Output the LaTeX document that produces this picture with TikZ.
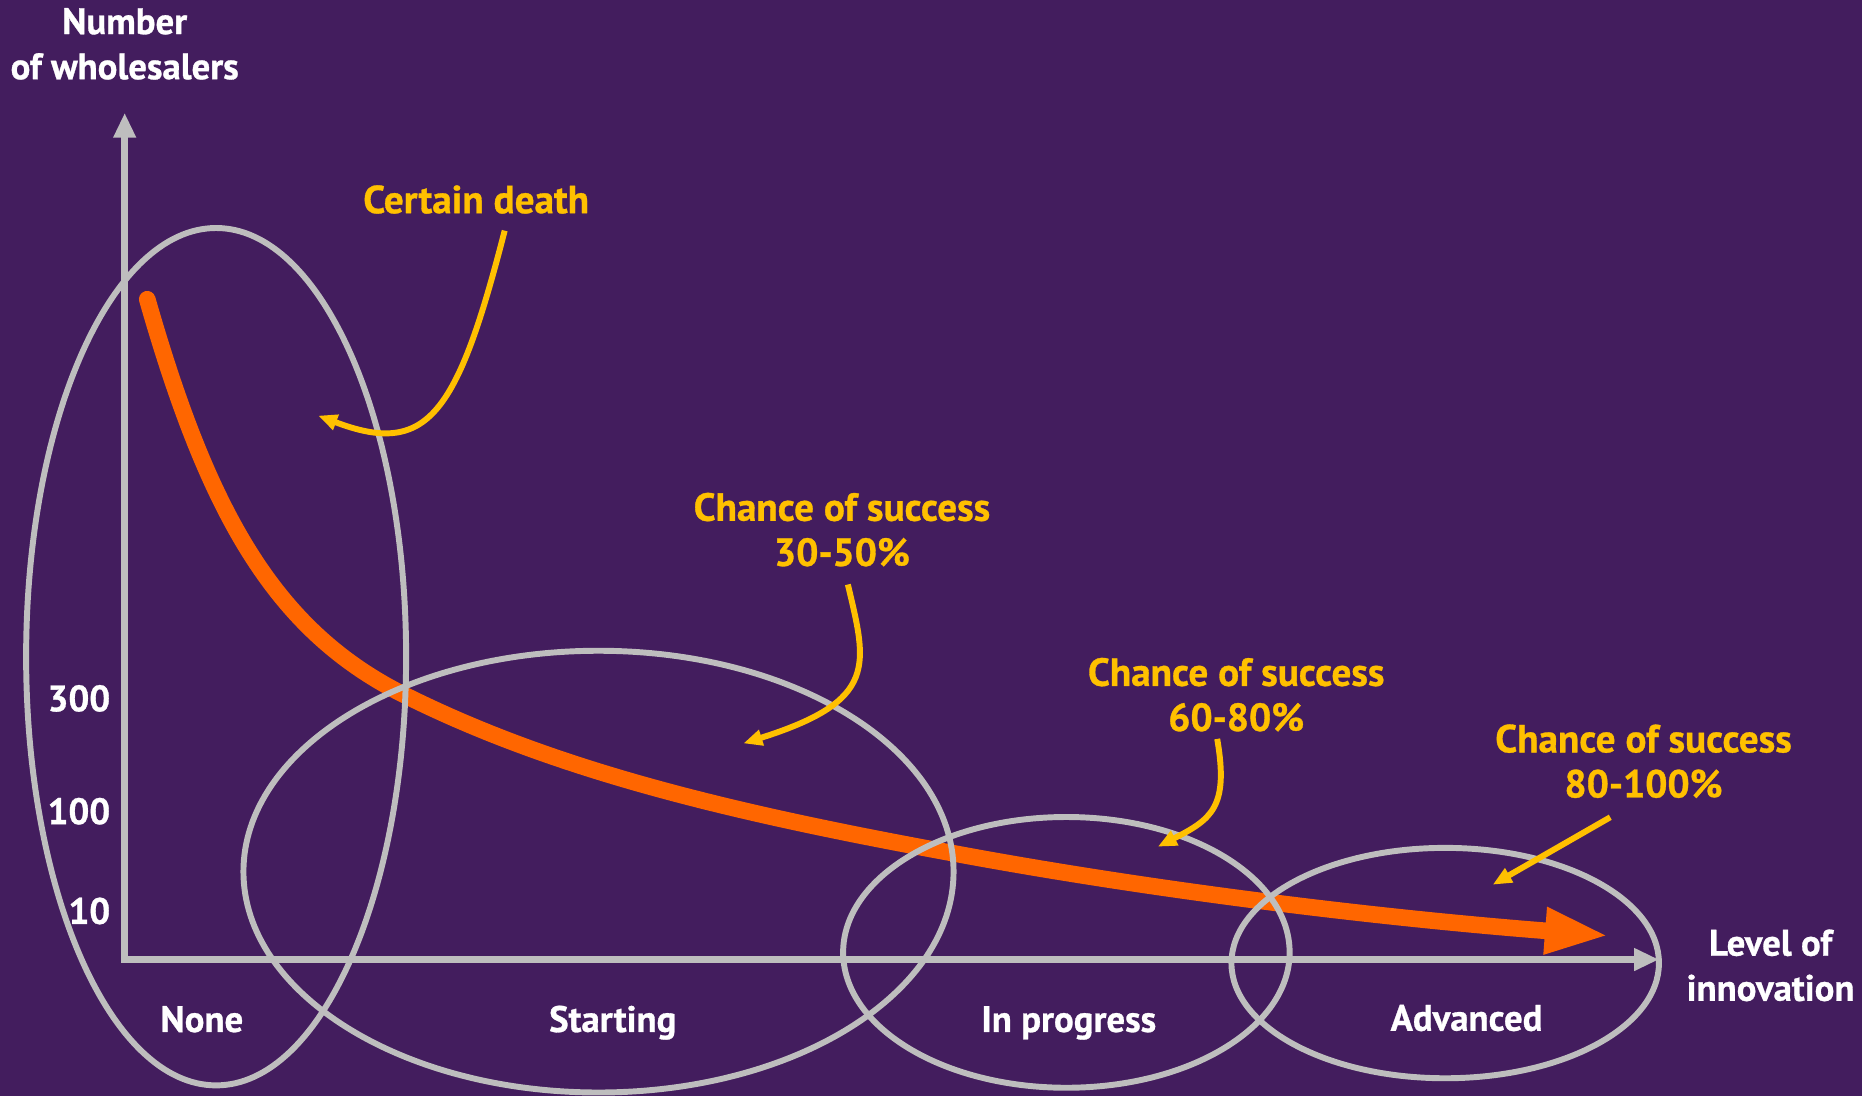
\documentclass[tikz,border=0pt]{standalone}
\usepackage{fontspec}
\setmainfont{PT Sans}[BoldFeatures={FakeBold=0.8}]
\usetikzlibrary{arrows.meta}
\definecolor{bgpurple}{RGB}{67,29,94}
\definecolor{ringgray}{RGB}{190,190,190}
\definecolor{trendorange}{RGB}{255,102,0}
\definecolor{notegold}{RGB}{255,192,0}

\begin{document}
\begin{tikzpicture}[x=1pt,y=-1pt,font=\bfseries\fontsize{31}{38}\selectfont]
    \tikzstyle{ring}=[draw=ringgray,line width=5pt]
    \tikzstyle{axis}=[draw=ringgray,line width=6pt,{Triangle[length=21pt,width=18pt]}-{Triangle[length=21pt,width=18pt]}]
    \tikzstyle{label}=[text=white,align=center,inner sep=0pt]
    \tikzstyle{note}=[text=notegold,align=center,inner sep=0pt,font=\bfseries\fontsize{33}{38}\selectfont]
    \tikzstyle{pointer}=[draw=notegold,line width=5pt,-{Triangle[length=16pt,width=13pt]}]
    \tikzstyle{trend}=[draw=trendorange,line width=14pt,line cap=round,-{Triangle[length=54pt,width=36pt]}]
    % Background
    \fill[bgpurple] (0,0) rectangle (1568,923);
    % The trend curve
    \draw[trend] (124,252) .. controls (175,430) and (230,530) .. (340,585)
        .. controls (470,650) and (620,685) .. (800,718)
        .. controls (960,748) and (1150,772) .. (1355,788);
    % Axes
    \coordinate (ytip) at (105,95);
    \coordinate (xtip) at (1397,808);
    \draw[axis] (ytip) |- (xtip);
    % The four stages
    \coordinate (none) at (182,553);
    \coordinate (starting) at (504,734);
    \coordinate (progress) at (898,802);
    \coordinate (advanced) at (1217,811);
    \draw[ring] (none) ellipse [x radius=160pt,y radius=361pt];
    \draw[ring] (starting) ellipse [x radius=299pt,y radius=186pt];
    \draw[ring] (progress) ellipse [x radius=188pt,y radius=114pt];
    \draw[ring] (advanced) ellipse [x radius=180pt,y radius=97pt];
    % Axis labels
    \node[label] (ylabel) at (105,37) {Number\\of wholesalers};
    \node[label] (xlabel) at (1491,813) {Level of\\innovation};
    \node[label,anchor=base east] (t300) at (93,599) {300};
    \node[label,anchor=base east] (t100) at (93,694) {100};
    \node[label,anchor=base east] (t10) at (93,778) {10};
    \node[label,anchor=base] (lnone) at (170,869) {None};
    \node[label,anchor=base] (lstart) at (516,869) {Starting};
    \node[label,anchor=base] (lprog) at (900,869) {In progress};
    \node[label,anchor=base] (ladv) at (1235,868) {Advanced};
    % Notes and their pointers
    \node[note] (death) at (401,168) {Certain death};
    \node[note] (chance1) at (709,446) {Chance of success\\30-50\%};
    \node[note] (chance2) at (1041,585) {Chance of success\\60-80\%};
    \node[note] (chance3) at (1384,641) {Chance of success\\80-100\%};
    \coordinate (deathtip) at (268,350);
    \coordinate (tip1) at (626,626);
    \coordinate (tip2) at (975,713);
    \coordinate (tip3) at (1257,745);
    \draw[pointer] ([xshift=24pt,yshift=-14pt]death.south) .. controls (385,350) and (360,385) .. (deathtip);
    \draw[pointer] ([xshift=5pt,yshift=-15pt]chance1.south) .. controls (730,560) and (740,590) .. (tip1);
    \draw[pointer] ([xshift=-16pt,yshift=-6pt]chance2.south) .. controls (1035,680) and (1020,690) .. (tip2);
    \draw[pointer] ([xshift=-28pt,yshift=-16pt]chance3.south) -- (tip3);
\end{tikzpicture}
\end{document}
